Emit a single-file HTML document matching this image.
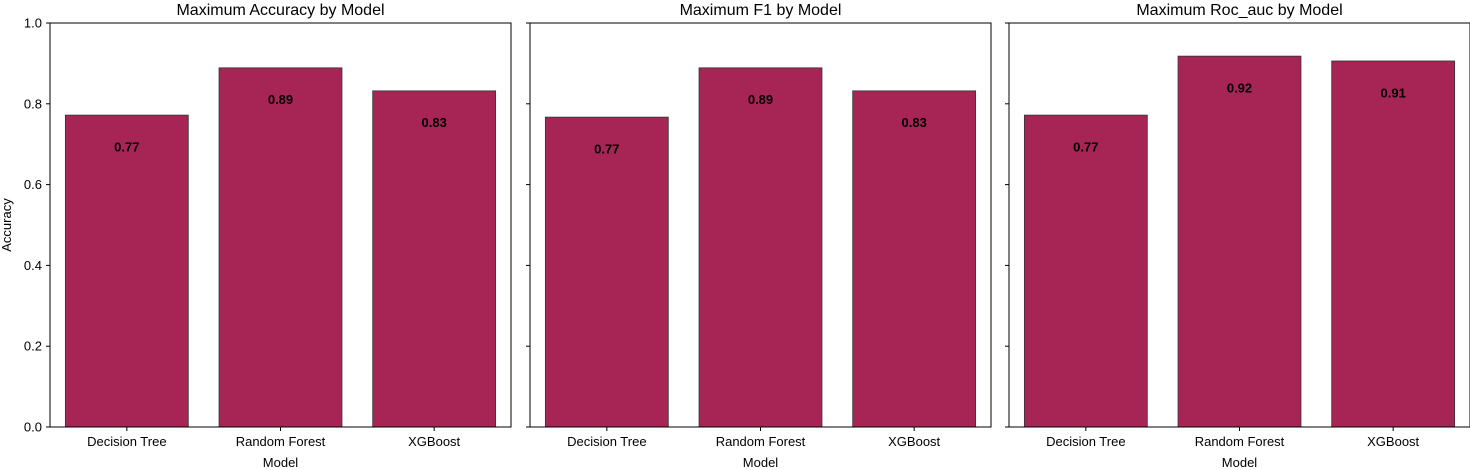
<!DOCTYPE html>
<html><head><meta charset="utf-8"><style>
body{margin:0;background:#fff;}
svg{display:block;font-family:"Liberation Sans","DejaVu Sans",sans-serif;}
</style></head><body>
<svg id="chart" width="1470" height="470" xmlns="http://www.w3.org/2000/svg"></svg>
<script>
const categories = ["Decision Tree","Random Forest","XGBoost"];
const accuracyValues = [0.772, 0.889, 0.832];
const f1Values = [0.767, 0.889, 0.832];
const rocValues = [0.772, 0.918, 0.906];
const accuracyLabels = ["0.77","0.89","0.83"];
const f1Labels = ["0.77","0.89","0.83"];
const rocLabels = ["0.77","0.92","0.91"];
const yTicks = [0,0.2,0.4,0.6,0.8,1.0];
const yTickLabels = ["0.0","0.2","0.4","0.6","0.8","1.0"];
const panelTitles = ["Maximum Accuracy by Model","Maximum F1 by Model","Maximum Roc_auc by Model"];

const svg = document.getElementById('chart');
const NS = 'http://www.w3.org/2000/svg';
function mk(tag, attrs, parent){const e=document.createElementNS(NS,tag);for(const k in attrs)e.setAttribute(k,attrs[k]);(parent||svg).appendChild(e);return e;}
const axTop=23, axBottom=427, W=461;
const lefts=[50,530,1009];
const series=[accuracyValues,f1Values,rocValues];
const labels=[accuracyLabels,f1Labels,rocLabels];
function yScale(v){return axBottom-(axBottom-axTop)*v;}
lefts.forEach((L,p)=>{
  const g=mk('g',{});
  
  
  const xScale=i=>L+(i+0.5)*W/3;
  const bw=0.8*W/3;
  series[p].forEach((v,i)=>{
    const r=mk('rect',{x:xScale(i)-bw/2,y:yScale(v),width:bw,height:axBottom-yScale(v),fill:'#a62555',stroke:'#333','stroke-width':0.8},g);
    
    
    const t=mk('text',{x:xScale(i),y:yScale(v-0.08)+4,'text-anchor':'middle','font-size':13,'font-weight':'bold',fill:'#000'},g);
    t.textContent=labels[p][i];
    
    
    mk('line',{x1:xScale(i),x2:xScale(i),y1:axBottom,y2:axBottom+4,stroke:'#000'},g);
    const xl=mk('text',{x:xScale(i),y:axBottom+19,'text-anchor':'middle','font-size':13},g);
    xl.textContent=categories[i];
    
    
  });
  const frame=mk('rect',{x:L,y:axTop,width:W,height:axBottom-axTop,fill:'none',stroke:'#000','stroke-width':1},g);
  
  
  yTicks.forEach((v,j)=>{
    mk('line',{x1:L-4,x2:L,y1:yScale(v),y2:yScale(v),stroke:'#000'},g);
    if(p===0){
      const yl=mk('text',{x:L-8,y:yScale(v)+4.5,'text-anchor':'end','font-size':13},g);
      yl.textContent=yTickLabels[j];
      
      
    }
  });
  const tt=mk('text',{x:L+W/2,y:axTop-8,'text-anchor':'middle','font-size':16},g);
  tt.textContent=panelTitles[p];
  
  
  const xt=mk('text',{x:L+W/2,y:axBottom+40,'text-anchor':'middle','font-size':13},g);
  xt.textContent='Model';
  
  
});
const ya=mk('text',{x:11,y:225,'text-anchor':'middle','font-size':13,transform:'rotate(-90 11 225)'});
ya.textContent='Accuracy';


</script>
</body></html>
